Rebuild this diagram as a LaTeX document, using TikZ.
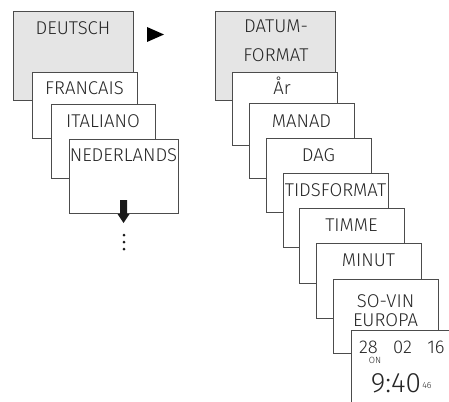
\documentclass[tikz,border=0pt]{standalone}
\usepackage{fontspec}
\setmainfont{Fira Sans Light}
\begin{document}
\begin{tikzpicture}[x=1pt,y=-1pt,
  box/.style={draw=black!70,line width=0.9pt,fill=white,inner sep=0pt,anchor=north west},
  graybox/.style={box,fill=black!10},
  lbl/.style={inner sep=0pt,anchor=base,font=\fontsize{18.5}{20}\selectfont,text=black!85},
  small/.style={inner sep=0pt,anchor=base,font=\fontsize{9}{10}\selectfont,text=black!85},
  big/.style={inner sep=0pt,anchor=base,font=\fontsize{28}{30}\selectfont,text=black!85}]
\useasboundingbox (0,0) rectangle (449,401);
\clip (0,0) rectangle (449,401);
% left column
\node[graybox,minimum width=120pt,minimum height=89pt] (deu) at (13,11) {};
\node[lbl] (tdeu) at (73,35) {DEUTSCH};
\node[box,minimum width=105pt,minimum height=66pt] (fra) at (32,72) {};
\node[lbl] (tfra) at (84.5,95) {FRANCAIS};
\node[box,minimum width=104pt,minimum height=74pt] (ita) at (51,104) {};
\node[lbl] (tita) at (103,127) {ITALIANO};
\node[box,minimum width=109pt,minimum height=74pt] (ned) at (69,139) {};
\node[lbl] (tned) at (123.5,161) {NEDERLANDS};
% down arrow
\fill[black!90] (120,200) -- (127,200) -- (127,214) -- (129.5,214) -- (123.5,223) -- (117.5,214) -- (120,214) -- cycle;
\foreach \yy/\nm in {235/d1,242/d2,249/d3}
  \node[circle,fill=black!90,inner sep=0pt,minimum size=3pt] (\nm) at (124,\yy) {};
% right arrow
\fill[black] (147,27) -- (164,34.5) -- (147,42) -- cycle;
% right column
\node[graybox,minimum width=120pt,minimum height=89pt] (dat) at (215,11) {};
\node[lbl] (tdat1) at (276,33) {DATUM-};
\node[lbl] (tdat2) at (276,62) {FORMAT};
\node[box,minimum width=105pt,minimum height=73pt] (ar) at (232,72) {};
\node[lbl] (tar) at (282,95) {År};
\node[box,minimum width=105pt,minimum height=75pt] (man) at (249,103) {};
\node[lbl] (tman) at (301.5,127) {MANAD};
\node[box,minimum width=105pt,minimum height=74pt] (dag) at (266,138) {};
\node[lbl] (tdag) at (318.5,161) {DAG};
\node[box,minimum width=105pt,minimum height=74pt] (tid) at (283,173) {};
\node[lbl] (ttid) at (335.5,196) {TIDSFORMAT};
\node[box,minimum width=105pt,minimum height=75pt] (tim) at (299,208) {};
\node[lbl] (ttim) at (351.5,231) {TIMME};
\node[box,minimum width=105pt,minimum height=75pt] (min) at (316,243) {};
\node[lbl] (tmin) at (368.5,266) {MINUT};
\node[box,minimum width=105pt,minimum height=74pt] (sov) at (333,279) {};
\node[lbl] (tsov1) at (385.5,307) {SO-VIN};
\node[lbl] (tsov2) at (385.5,326) {EUROPA};
\node[box,minimum width=120pt,minimum height=90pt] (clk) at (351,330) {};
\node[lbl] (c28) at (368.5,353) {28};
\node[lbl] (c02) at (402.5,353) {02};
\node[lbl] (c16) at (436,353) {16};
\node[small] (con) at (375,363) {ON};
\node[big] (ctime) at (396,392) {9:40};
\node[small] (c46) at (427,388) {46};
\end{tikzpicture}
\end{document}
